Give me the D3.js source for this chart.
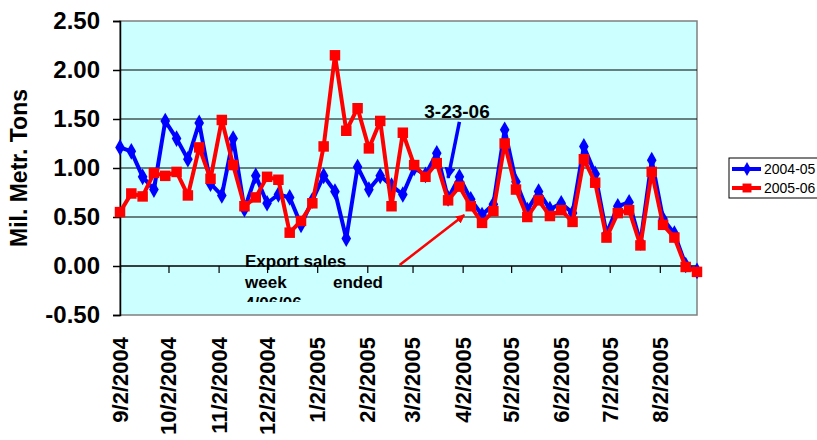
<html>
  <head>
    <meta charset="utf-8">
    <script src="https://d3js.org/d3.v7.min.js"></script>
    <style>
      body { margin: 0; background: #fff; }
      text { font-family: Arial, "Liberation Sans", sans-serif; }
      .axis text { font-weight: bold; fill: #000; }
    </style>
  </head>
  <body>
    <svg id="chart" width="817" height="440"></svg>
    <script>
      // weekly export sales, million metric tons
      const startWeek = new Date(2004, 8, 2);
      const endWeek = new Date(2005, 7, 25);
      const weeks = d3.timeDay.range(startWeek, d3.timeDay.offset(endWeek, 1), 7);

      const sales0405 = [1.21, 1.17, 0.91, 0.78, 1.48, 1.30, 1.09, 1.46, 0.84, 0.72,
        1.30, 0.58, 0.92, 0.64, 0.73, 0.70, 0.42, 0.67, 0.92, 0.76,
        0.28, 1.01, 0.78, 0.92, 0.82, 0.73, 1.00, 0.93, 1.15, 0.69,
        0.91, 0.68, 0.52, 0.63, 1.39, 0.86, 0.57, 0.76, 0.58, 0.64,
        0.54, 1.22, 0.94, 0.33, 0.61, 0.65, 0.24, 1.08, 0.48, 0.33,
        0.01, -0.05];
      const sales0506 = [0.55, 0.74, 0.71, 0.95, 0.92, 0.96, 0.72, 1.21, 0.89, 1.49,
        1.03, 0.61, 0.70, 0.91, 0.88, 0.34, 0.46, 0.64, 1.22, 2.15,
        1.38, 1.61, 1.20, 1.48, 0.61, 1.36, 1.03, 0.91, 1.05, 0.67,
        0.81, 0.61, 0.44, 0.56, 1.25, 0.78, 0.50, 0.67, 0.51, 0.57,
        0.45, 1.09, 0.85, 0.29, 0.54, 0.57, 0.21, 0.96, 0.42, 0.29,
        -0.01, -0.06];

      const seriesNames = ["2004-05", "2005-06"];
      const seriesColors = ["#0000ff", "#ff0000"];
      const monthLabels = ["9/2/2004", "10/2/2004", "11/2/2004", "12/2/2004", "1/2/2005",
        "2/2/2005", "3/2/2005", "4/2/2005", "5/2/2005", "6/2/2005", "7/2/2005", "8/2/2005"];
      const yTicks = [-0.5, 0, 0.5, 1, 1.5, 2, 2.5];

      const svg = d3.select("#chart");
      const plot = { left: 120, right: 697, top: 21, bottom: 315 };
      const parseDate = d3.timeParse("%m/%d/%Y");

      const x = d3.scaleTime().domain([startWeek, endWeek]).range([plot.left, plot.right]);
      const y = d3.scaleLinear().domain([-0.5, 2.5]).range([plot.bottom, plot.top]);

      // plot background
      svg.append("rect")
        .attr("x", plot.left).attr("y", plot.top)
        .attr("width", plot.right - plot.left).attr("height", plot.bottom - plot.top)
        .attr("fill", "#ccffff").attr("stroke", "#808080").attr("stroke-width", 1.5);

      // horizontal gridlines
      svg.append("g")
        .selectAll("line")
        .data(yTicks.filter((d) => d > -0.5 && d < 2.5))
        .join("line")
        .attr("x1", plot.left).attr("x2", plot.right)
        .attr("y1", (d) => y(d)).attr("y2", (d) => y(d))
        .attr("stroke", "#000").attr("stroke-width", 1);

      // y axis (plain hyphen for the minus sign, like the original)
      const fmt = (d) => d3.format(".2f")(d).replace("\u2212", "-");
      const yAxis = svg.append("g")
        .attr("class", "axis")
        .attr("transform", `translate(${plot.left},0)`)
        .call(d3.axisLeft(y).tickValues(yTicks).tickFormat(fmt).tickSize(7).tickPadding(13));
      yAxis.selectAll("text").style("font-size", "24px");
      yAxis.selectAll("line, path").attr("stroke", "#000").attr("stroke-width", 1.5);

      // x axis on the zero line
      const xAxis = svg.append("g")
        .attr("class", "axis")
        .attr("transform", `translate(0,${y(0)})`)
        .call(d3.axisBottom(x).tickValues(monthLabels.map(parseDate)).tickSize(7).tickFormat(""));
      xAxis.select(".domain").remove();
      xAxis.selectAll("line").attr("stroke", "#000").attr("stroke-width", 1.2);

      svg.append("line")
        .attr("x1", plot.left).attr("x2", plot.right)
        .attr("y1", y(0)).attr("y2", y(0))
        .attr("stroke", "#000").attr("stroke-width", 1.2);

      svg.append("g")
        .selectAll("text")
        .data(monthLabels)
        .join("text")
        .attr("transform", (d) => `translate(${x(parseDate(d))},337) rotate(-90)`)
        .attr("text-anchor", "end")
        .attr("dy", "0.36em")
        .style("font-size", "22px")
        .style("font-weight", "bold")
        .text((d) => d);

      // y axis title
      svg.append("text")
        .attr("transform", "translate(27,168) rotate(-90)")
        .attr("text-anchor", "middle")
        .style("font-size", "23px")
        .style("font-weight", "bold")
        .text("Mil. Metr. Tons");

      // series
      const lineGen = d3.line()
        .x((d, i) => x(weeks[i]))
        .y((d) => y(d));

      const allSeries = [sales0405, sales0506];
      allSeries.forEach((values, s) => {
        const g = svg.append("g").attr("class", "series");
        g.append("path")
          .attr("d", lineGen(values))
          .attr("fill", "none")
          .attr("stroke", seriesColors[s])
          .attr("stroke-width", 4)
          .attr("stroke-linejoin", "round");
        g.selectAll("path.mark")
          .data(values)
          .join("path")
          .attr("class", "mark")
          .attr("transform", (d, i) => `translate(${x(weeks[i])},${y(d)})`)
          .attr("d", d3.symbol().type(s === 0 ? d3.symbolDiamond : d3.symbolSquare).size(s === 0 ? 80 : 110))
          .attr("fill", seriesColors[s]);
      });

      // annotations
      const defs = svg.append("defs");
      seriesColors.forEach((c, s) => {
        defs.append("marker")
          .attr("id", "arrow" + s)
          .attr("viewBox", "0 0 10 10")
          .attr("refX", 9).attr("refY", 5)
          .attr("markerWidth", s === 0 ? 3.2 : 3.6)
          .attr("markerHeight", s === 0 ? 3.2 : 3.6)
          .attr("orient", "auto")
          .append("path")
          .attr("d", "M0,0L10,5L0,10Z")
          .attr("fill", c);
      });

      const blueArrow = { from: [new Date(2005, 2, 31), 1.47], to: [new Date(2005, 2, 24), 0.9] };
      const redArrow = { from: [new Date(2005, 1, 22), 0.01], to: [new Date(2005, 3, 3), 0.52] };
      [blueArrow, redArrow].forEach((a, s) => {
        svg.append("line")
          .attr("x1", x(a.from[0])).attr("y1", y(a.from[1]))
          .attr("x2", x(a.to[0])).attr("y2", y(a.to[1]))
          .attr("stroke", seriesColors[s])
          .attr("stroke-width", s === 0 ? 3.5 : 2.5)
          .attr("marker-end", `url(#arrow${s})`);
      });

      svg.append("text")
        .attr("x", 457).attr("y", 118)
        .attr("text-anchor", "middle")
        .style("font-size", "19px")
        .style("font-weight", "bold")
        .text("3-23-06");

      defs.append("clipPath").attr("id", "noteClip")
        .append("rect").attr("x", 240).attr("y", 240).attr("width", 160).attr("height", 62);
      const note = svg.append("g").attr("clip-path", "url(#noteClip)")
        .style("font-size", "17px").style("font-weight", "bold");
      note.append("text").attr("x", 245).attr("y", 267).text("Export sales");
      note.append("text").attr("x", 245).attr("y", 288).text("week");
      note.append("text").attr("x", 383).attr("y", 288).attr("text-anchor", "end").text("ended");
      note.append("text").attr("x", 245).attr("y", 309).text("4/06/06");

      // legend
      const legend = svg.append("g").attr("transform", "translate(729,158)");
      legend.append("rect")
        .attr("width", 100).attr("height", 40)
        .attr("fill", "#fff").attr("stroke", "#000").attr("stroke-width", 1);
      const items = legend.selectAll("g.item")
        .data(seriesNames)
        .join("g")
        .attr("class", "item")
        .attr("transform", (d, i) => `translate(0,${11 + i * 19})`);
      items.append("line")
        .attr("x1", 3).attr("x2", 32)
        .attr("stroke", (d, i) => seriesColors[i]).attr("stroke-width", 4);
      items.append("path")
        .attr("transform", "translate(18,0)")
        .attr("d", (d, i) => d3.symbol().type(i === 0 ? d3.symbolDiamond : d3.symbolSquare).size(i === 0 ? 55 : 80)())
        .attr("fill", (d, i) => seriesColors[i]);
      items.append("text")
        .attr("x", 35).attr("dy", "0.35em")
        .style("font-size", "14px")
        .text((d) => d);
    </script>
  </body>
</html>
